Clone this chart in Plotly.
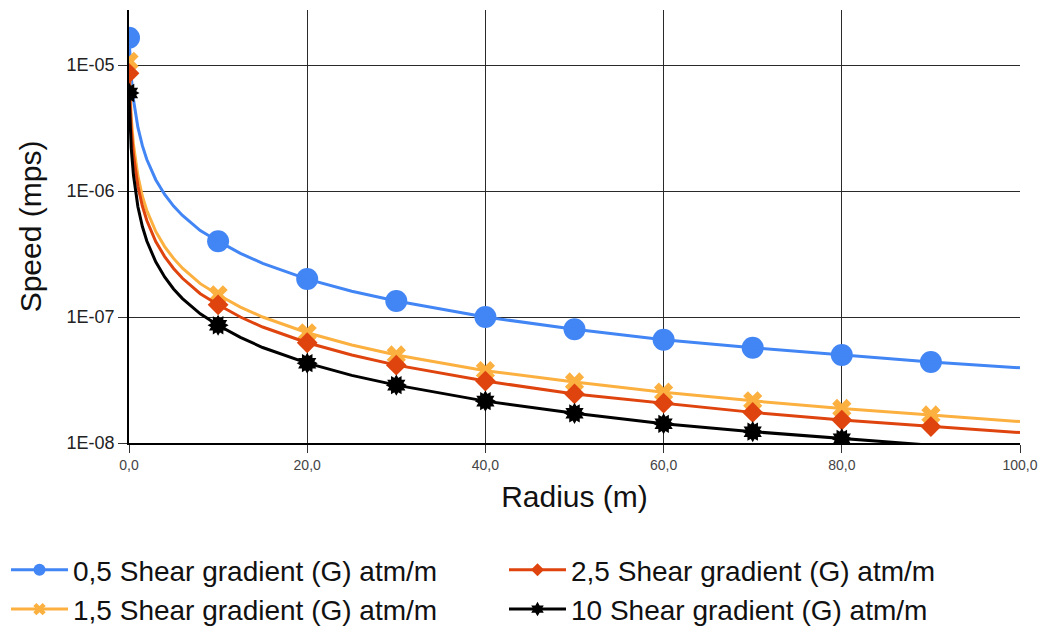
import plotly.graph_objects as go

# Radius (m) sampling of the drawn curves
radius = [0, 0.25, 0.5, 1, 1.5, 2, 3, 4, 5, 6, 8, 10, 12.5, 15, 20, 25, 30, 40, 50, 60, 70, 80, 90, 100]

speed_g05 = [1.65e-5, 8.0e-6, 5.33e-6, 3.2e-6, 2.29e-6, 1.78e-6, 1.23e-6, 9.4e-7, 7.6e-7, 6.4e-7, 4.85e-7,
             4.0e-7, 3.2e-7, 2.67e-7, 2.0e-7, 1.6e-7, 1.34e-7, 1.0e-7, 8.0e-8, 6.6e-8, 5.7e-8, 5.0e-8, 4.4e-8, 3.95e-8]
speed_g15 = [1.07e-5, 3.85e-6, 2.34e-6, 1.32e-6, 9.1e-7, 7.0e-7, 4.78e-7, 3.62e-7, 2.92e-7, 2.44e-7, 1.84e-7,
             1.5e-7, 1.2e-7, 1.0e-7, 7.5e-8, 6.0e-8, 5.0e-8, 3.75e-8, 3.05e-8, 2.53e-8, 2.16e-8, 1.88e-8, 1.67e-8, 1.48e-8]
speed_g25 = [8.6e-6, 3.16e-6, 1.94e-6, 1.09e-6, 7.6e-7, 5.83e-7, 3.97e-7, 3.02e-7, 2.43e-7, 2.03e-7, 1.53e-7,
             1.25e-7, 1.0e-7, 8.33e-8, 6.25e-8, 5.0e-8, 4.15e-8, 3.1e-8, 2.45e-8, 2.07e-8, 1.75e-8, 1.52e-8, 1.35e-8, 1.21e-8]
speed_g10 = [6.0e-6, 2.19e-6, 1.34e-6, 7.5e-7, 5.23e-7, 4.01e-7, 2.74e-7, 2.08e-7, 1.67e-7, 1.4e-7, 1.06e-7,
             8.6e-8, 6.9e-8, 5.73e-8, 4.3e-8, 3.44e-8, 2.88e-8, 2.15e-8, 1.72e-8, 1.42e-8, 1.23e-8, 1.08e-8, 9.6e-9, 8.6e-9]

# Marked points
marker_radius = [0, 10, 20, 30, 40, 50, 60, 70, 80, 90]
marker_g05 = [1.65e-5, 4.0e-7, 2.0e-7, 1.34e-7, 1.0e-7, 8.0e-8, 6.6e-8, 5.7e-8, 5.0e-8, 4.4e-8]
marker_g15 = [1.07e-5, 1.5e-7, 7.5e-8, 5.0e-8, 3.75e-8, 3.05e-8, 2.53e-8, 2.16e-8, 1.88e-8, 1.67e-8]
marker_g25 = [8.6e-6, 1.25e-7, 6.25e-8, 4.15e-8, 3.1e-8, 2.45e-8, 2.07e-8, 1.75e-8, 1.52e-8, 1.35e-8]
marker_radius_g10 = [0, 10, 20, 30, 40, 50, 60, 70, 80]
marker_g10 = [6.0e-6, 8.6e-8, 4.3e-8, 2.88e-8, 2.15e-8, 1.72e-8, 1.42e-8, 1.23e-8, 1.08e-8]

names = ["0,5 Shear gradient (G) atm/m", "1,5 Shear gradient (G) atm/m",
         "2,5 Shear gradient (G) atm/m", "10 Shear gradient (G) atm/m"]
x_ticks = [0, 20, 40, 60, 80, 100]
x_ticktext = ["0,0", "20,0", "40,0", "60,0", "80,0", "100,0"]
y_ticks = [1e-8, 1e-7, 1e-6, 1e-5]
y_ticktext = ["1E-08", "1E-07", "1E-06", "1E-05"]

colors = ["#4285f4", "#fbb040", "#df440f", "#000000"]

fig = go.Figure()

series = [
    (speed_g05, marker_radius, marker_g05, colors[0], "circle", 22),
    (speed_g15, marker_radius, marker_g15, colors[1], "x", 17),
    (speed_g25, marker_radius, marker_g25, colors[2], "diamond", 16),
    (speed_g10, marker_radius_g10, marker_g10, colors[3], "hexagram", 16),
]

for i, (ys, mx, my, col, sym, sz) in enumerate(series):
    fig.add_trace(go.Scatter(x=mx, y=my, mode="markers", showlegend=False, hoverinfo="skip",
                             marker=dict(symbol=sym, size=sz, color=col, line=dict(width=0))))
    if sym == "hexagram":
        fig.add_trace(go.Scatter(x=mx, y=my, mode="markers", showlegend=False, hoverinfo="skip",
                                 marker=dict(symbol=sym, size=sz, color=col, angle=30, line=dict(width=0))))
    fig.add_trace(go.Scatter(x=radius, y=ys, mode="lines", showlegend=False, name=names[i],
                             line=dict(color=col, width=3)))

legend_symbols = ["circle", "x", "diamond", "hexagram"]
legend_sizes = [12, 11, 10, 11]
legend_of = {0: "legend", 1: "legend", 2: "legend2", 3: "legend2"}
for idx in [0, 1, 2, 3]:
    fig.add_trace(go.Scatter(x=[None], y=[None], mode="lines+markers", name=names[idx],
                             legend=legend_of[idx],
                             line=dict(color=colors[idx], width=3),
                             marker=dict(symbol=legend_symbols[idx], size=legend_sizes[idx], color=colors[idx])))

font_family = "Liberation Sans, Arial, sans-serif"
legend_common = dict(orientation="h", xref="container", yref="container", xanchor="left",
                     yanchor="top", font=dict(size=28, color="#111"), itemwidth=57,
                     entrywidth=439, bgcolor="rgba(0,0,0,0)")

fig.update_layout(
    width=1043, height=626,
    margin=dict(l=129, r=23, t=10, b=183),
    paper_bgcolor="white", plot_bgcolor="white",
    font=dict(family=font_family, color="#222"),
    showlegend=True,
    legend=dict(x=6 / 1043, y=1 - 545 / 626, **legend_common),
    legend2=dict(x=504 / 1043, y=1 - 545 / 626, **legend_common),
    xaxis=dict(range=[0, 100], tickvals=x_ticks, ticktext=x_ticktext,
               showgrid=True, gridcolor="#2a2a2a", gridwidth=1,
               showline=True, linecolor="#000", linewidth=1.5,
               ticks="outside", ticklen=8, tickcolor="#333",
               tickfont=dict(size=14, color="#444"), zeroline=False, automargin=False,
               title=dict(text="Radius (m)", font=dict(size=30, color="#111"), standoff=14)),
    yaxis=dict(type="log", range=[-8, -4.563], tickvals=y_ticks, ticktext=y_ticktext,
               showgrid=True, gridcolor="#2a2a2a", gridwidth=1,
               showline=True, linecolor="#000", linewidth=1.5,
               ticks="outside", ticklen=9, tickcolor="#333",
               tickfont=dict(size=18, color="#222"), zeroline=False, automargin=False,
               title=dict(text="Speed (mps)", font=dict(size=30, color="#111"), standoff=16)),
)

fig.write_html("out.html", config={"displayModeBar": False},
               post_script="document.body.style.margin='0';document.body.style.overflow='hidden';")
